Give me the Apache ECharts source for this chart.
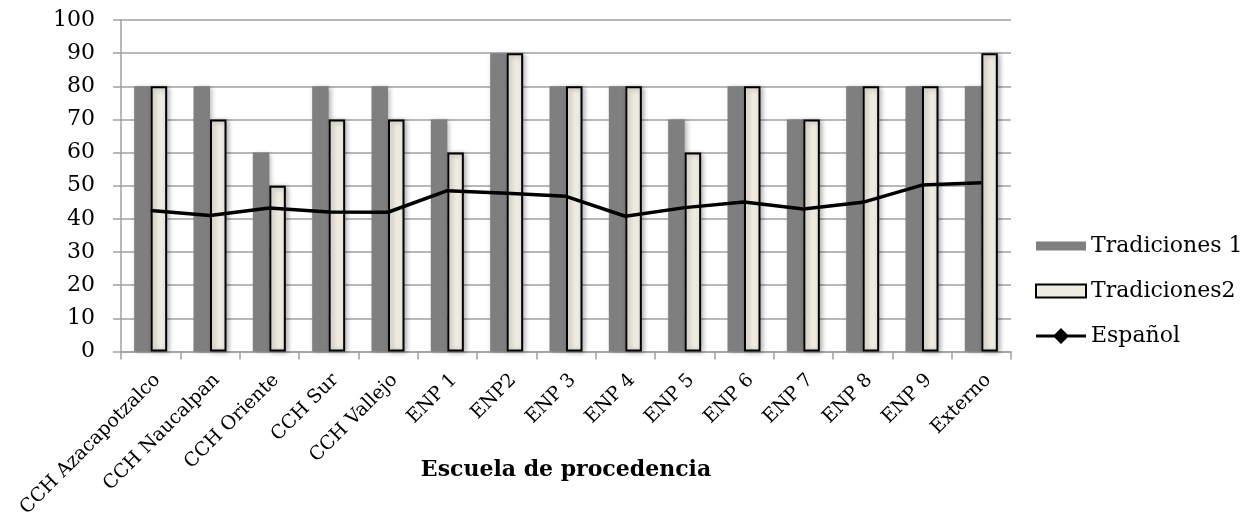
<!DOCTYPE html>
<html>
<head>
<meta charset="utf-8">
<script src="https://cdn.jsdelivr.net/npm/echarts@6/dist/echarts.min.js"></script>
<style>
html,body{margin:0;padding:0;background:#fff;}
#main{width:1254px;height:520px;}
</style>
</head>
<body>
<div id="main"></div>
<script>
const categories = ['CCH Azacapotzalco','CCH Naucalpan','CCH Oriente','CCH Sur','CCH Vallejo','ENP 1','ENP2','ENP 3','ENP 4','ENP 5','ENP 6','ENP 7','ENP 8','ENP 9','Externo'];
const tradiciones1 = [80,80,60,80,80,70,90,80,80,70,80,70,80,80,80];
const tradiciones2 = [80,70,50,70,70,60,90,80,80,60,80,70,80,80,90];
const espanol = [42.5,41.0,43.3,42.1,42.0,48.5,47.7,46.8,40.8,43.4,45.1,43.0,45.0,50.2,50.9];
const yTicks = [0,10,20,30,40,50,60,70,80,90,100];

const FONT = 'DejaVu Serif';
const chart = echarts.init(document.getElementById('main'), null, {renderer:'canvas'});
chart.setOption({
  animation:false,
  backgroundColor:'#ffffff',
  textStyle:{fontFamily:FONT,color:'#000'},
  grid:{left:121,right:243,top:20,bottom:168,containLabel:false},
  legend:{
    orient:'vertical',left:1030,top:230,itemWidth:50,itemHeight:16,itemGap:23,
    textStyle:{fontFamily:FONT,fontSize:22,color:'#000'},
    data:[
      {name:'Tradiciones 1',icon:'path://M0,0 L50,0 L50,9 L0,9 Z'},
      {name:'Tradiciones2',icon:'path://M0,0 L50,0 L50,13 L0,13 Z'},
      {name:'Español',icon:'path://M0,6.5 L18.5,6.5 L25,0 L31.5,6.5 L50,6.5 L50,9.5 L31.5,9.5 L25,16 L18.5,9.5 L0,9.5 Z'}
    ]
  },
  xAxis:{
    type:'category',data:categories,
    name:'Escuela de procedencia',nameLocation:'middle',nameGap:108,nameMoveOverlap:false,
    nameTextStyle:{fontFamily:FONT,fontSize:22,fontWeight:'bold',color:'#000'},
    axisLine:{lineStyle:{color:'#a0a0a0',width:1.5}},
    axisTick:{show:true,length:8,lineStyle:{color:'#a0a0a0',width:1.5}},
    axisLabel:{rotate:45,align:'right',verticalAlign:'top',fontFamily:FONT,fontSize:19,color:'#000',margin:19,interval:0}
  },
  yAxis:{
    type:'value',min:0,max:100,interval:10,
    axisLine:{show:true,lineStyle:{color:'#a0a0a0',width:1.5}},
    axisTick:{show:true,length:8,lineStyle:{color:'#a0a0a0',width:1.5}},
    splitLine:{show:true,lineStyle:{color:'#a0a0a0',width:1.5}},
    axisLabel:{fontFamily:FONT,fontSize:22,color:'#000',margin:26,
      formatter:function(v){return yTicks.indexOf(v)>=0?String(v):'';}}
  },
  series:[
    {name:'Tradiciones 1',type:'bar',data:tradiciones1,barWidth:16.5,barGap:'0%',
      itemStyle:{color:'#7f7f7f',shadowColor:'rgba(0,0,0,0.3)',shadowBlur:5,shadowOffsetX:2,shadowOffsetY:1}},
    {name:'Tradiciones2',type:'bar',data:tradiciones2,barWidth:16.5,barGap:'0%',
      itemStyle:{color:'#eeece1',borderColor:'#000',borderWidth:2,shadowColor:'rgba(0,0,0,0.3)',shadowBlur:5,shadowOffsetX:2,shadowOffsetY:1}},
    {name:'Español',type:'line',data:espanol,symbol:'diamond',showSymbol:false,symbolSize:14,
      lineStyle:{color:'#000',width:3.5},itemStyle:{color:'#000'},z:5}
  ]
});
</script>
</body>
</html>
